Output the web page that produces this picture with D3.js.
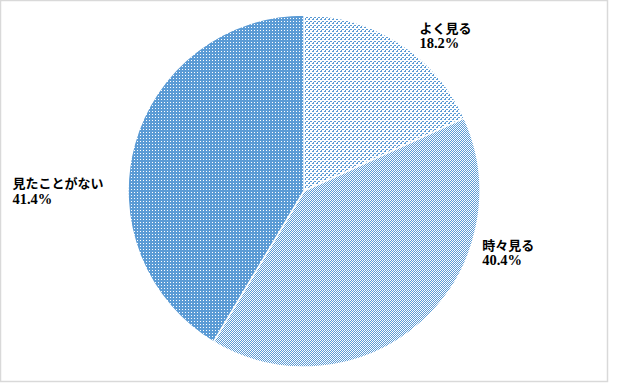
<!DOCTYPE html>
<html>
<head>
<meta charset="utf-8">
<script src="https://cdn.jsdelivr.net/npm/d3@7/dist/d3.min.js"></script>
<style>
  body { margin: 0; background: #fff; }
  svg { display: block; }
</style>
</head>
<body>
<div id="chart"></div>
<script>
const categories = ['よく見る', '時々見る', '見たことがない'];
const percents = [18.2, 40.4, 41.4];
const percentLabels = ['18.2%', '40.4%', '41.4%'];

const WIDTH = 628;
const HEIGHT = 384;
const BLUE = '#5b9bd5';

// nudges from the outer-arc centroid to the top-left of each label block
const LABEL_OFFSETS = {
  'よく見る': { x: 4, y: 3 },
  '時々見る': { x: 41, y: -107 },
  '見たことがない': { x: -93, y: 40 },
};

const svg = d3.select('#chart').append('svg')
  .attr('width', WIDTH)
  .attr('height', HEIGHT);

// pixel fill patterns, light -> dark
const defs = svg.append('defs');
const patterns = [
  { id: 'pat0', size: 4, bg: '#fff', fg: BLUE, px: [[0, 0], [1, 0], [2, 2], [3, 2], [1, 3]] },
  { id: 'pat1', size: 2, bg: '#fff', fg: BLUE, px: [[0, 0], [1, 1]] },
  { id: 'pat2', size: 3, bg: BLUE, fg: '#fff', px: [[1, 1]] },
];
patterns.forEach((p) => {
  const pat = defs.append('pattern')
    .attr('id', p.id)
    .attr('patternUnits', 'userSpaceOnUse')
    .attr('width', p.size)
    .attr('height', p.size);
  pat.append('rect')
    .attr('width', p.size)
    .attr('height', p.size)
    .attr('fill', p.bg);
  p.px.forEach(([x, y]) => {
    pat.append('rect')
      .attr('x', x).attr('y', y)
      .attr('width', 1).attr('height', 1)
      .attr('fill', p.fg)
      .attr('shape-rendering', 'crispEdges');
  });
});

// chart area border
svg.append('rect')
  .attr('x', 0.5)
  .attr('y', 0.5)
  .attr('width', 607)
  .attr('height', 381)
  .attr('fill', 'none')
  .attr('stroke', '#d9d9d9')
  .attr('stroke-width', 1.5);

const cx = 304;
const cy = 191;
const radius = 176;

const data = categories.map((c, i) => ({ name: c, value: percents[i], label: percentLabels[i], idx: i }));

const pie = d3.pie()
  .sort(null)
  .value(d => d.value);

const arc = d3.arc()
  .innerRadius(0)
  .outerRadius(radius);

const labelArc = d3.arc()
  .innerRadius(radius + 30)
  .outerRadius(radius + 30);

const g = svg.append('g')
  .attr('transform', `translate(${cx},${cy})`);

const arcs = pie(data);

g.selectAll('path')
  .data(arcs)
  .enter().append('path')
  .attr('d', arc)
  .attr('fill', d => `url(#pat${d.data.idx})`)
  .attr('stroke', '#fff')
  .attr('stroke-width', 1.5)
  .attr('stroke-linejoin', 'round');

const labels = g.selectAll('g.label')
  .data(arcs)
  .enter().append('g')
  .attr('class', 'label')
  .attr('transform', (d) => {
    const c = labelArc.centroid(d);
    const off = LABEL_OFFSETS[d.data.name] || { x: 0, y: 0 };
    return `translate(${c[0] + off.x},${c[1] + off.y})`;
  });

labels.append('text')
  .attr('x', 0)
  .attr('y', 12)
  .attr('style', 'font-family: \'Noto Sans CJK JP\', sans-serif; font-size: 13px; font-weight: 700')
  .attr('fill', '#000')
  .text(d => d.data.name);

labels.append('text')
  .attr('x', 0)
  .attr('y', 27.5)
  .attr('style', 'font-family: \'Liberation Serif\', serif; font-size: 14.5px; font-weight: 700')
  .attr('fill', '#000')
  .text(d => d.data.label);
</script>
</body>
</html>
